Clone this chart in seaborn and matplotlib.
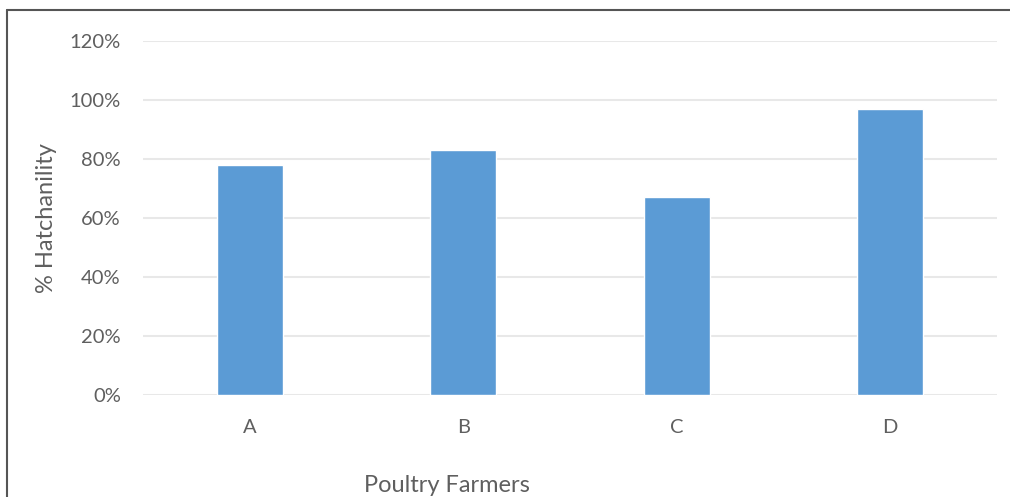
import matplotlib
matplotlib.use("Agg")
import matplotlib.pyplot as plt
from matplotlib.lines import Line2D
from matplotlib.ticker import FuncFormatter
import seaborn as sns
import pandas as pd

farmers = ["A", "B", "C", "D"]
hatchability = [78, 83, 67, 97]
y_ticks = [0, 20, 40, 60, 80, 100, 120]

sns.set_theme(style="white")
plt.rcParams['font.family'] = ['Lato', 'DejaVu Sans']

W, H = 1010, 497
fig = plt.figure(figsize=(W / 100, H / 100), dpi=100)
ax = fig.add_axes([143 / W, 1 - 395 / H, (997 - 143) / W, (395 - 41) / H])

df = pd.DataFrame({"farmer": farmers, "value": hatchability})
sns.barplot(data=df, x="farmer", y="value", color="#5B9BD5", saturation=1,
            width=0.31, ax=ax, zorder=3)

ax.set_ylim(0, 120)
ax.set_xlim(-0.5, 3.5)
ax.set_yticks(y_ticks)
ax.yaxis.set_major_formatter(FuncFormatter(lambda v, p: f"{int(v)}%"))
ax.grid(axis="y", color="#e8e8e8", linewidth=1.5, zorder=0)
ax.set_axisbelow(True)
for s in ax.spines.values():
    s.set_visible(False)
ax.tick_params(axis="both", length=0, labelsize=14.5, labelcolor="#5f5f5f")
ax.tick_params(axis="y", pad=16)
ax.tick_params(axis="x", pad=17)

ax.set_xlabel("")
ax.set_ylabel("")
fig.text(447 / W, 1 - 485 / H, "Poultry Farmers", ha="center", va="center",
         fontsize=17, color="#5f5f5f")
fig.text(47 / W, 1 - 218 / H, "% Hatchanility", ha="center", va="center",
         rotation=90, fontsize=17, color="#5f5f5f")

# border
fig.add_artist(Line2D([7 / W, 7 / W], [0, 1 - 10 / H], transform=fig.transFigure,
                      color="#555555", linewidth=1.5))
fig.add_artist(Line2D([7 / W, 1], [1 - 10 / H, 1 - 10 / H], transform=fig.transFigure,
                      color="#555555", linewidth=1.5))

fig.savefig("out.png", dpi=100, facecolor="white")
